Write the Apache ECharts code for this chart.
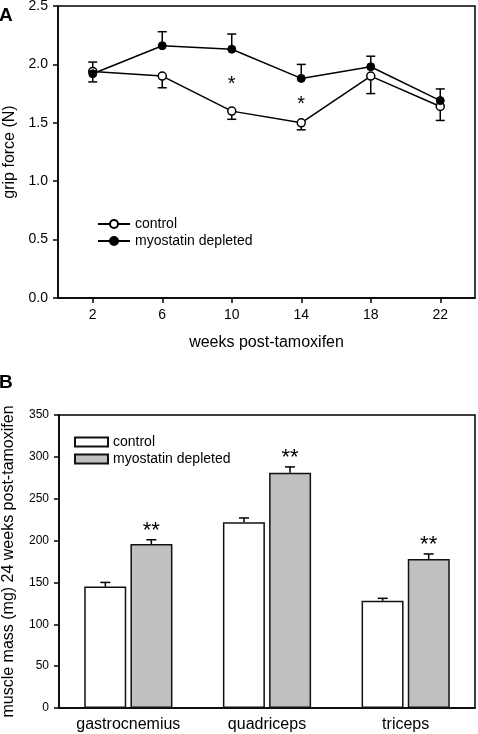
<!DOCTYPE html>
<html><head><meta charset="utf-8">
<script src="https://cdn.jsdelivr.net/npm/echarts@6/dist/echarts.min.js"></script>
<style>html,body{margin:0;padding:0;background:#fff}#c{width:478px;height:734px}</style>
</head><body><div id="c"></div>
<script>
// Panel A: grip force
const weeks = ['2', '6', '10', '14', '18', '22'];
const gripControl = [1.94, 1.90, 1.60, 1.50, 1.90, 1.64];
const gripControlErr = [0.09, 0.10, 0.07, 0.06, 0.15, 0.12];
const gripMyo = [1.92, 2.16, 2.13, 1.88, 1.98, 1.69];
const gripMyoErr = [0.10, 0.12, 0.13, 0.12, 0.09, 0.10];
const gripSig = ['', '', '*', '*', '', ''];
// Panel B: muscle mass
const muscles = ['gastrocnemius', 'quadriceps', 'triceps'];
const massControl = [145, 222, 128];
const massControlErr = [5, 5, 3];
const massMyo = [196, 281, 178];
const massMyoErr = [5, 7, 6];
const massSig = ['**', '**', '**'];

const FONT = 'Liberation Sans, Arial, sans-serif';
const BLACK = '#000';
const chart = echarts.init(document.getElementById('c'));

function errA(dir) {
  return function (params, api) {
    const x = api.value(0), v = api.value(1), e = api.value(2);
    const p0 = api.coord([x, v]);
    const p1 = api.coord([x, v + dir * e]);
    const hw = 4.5;
    return {
      type: 'group', children: [
        { type: 'line', shape: { x1: p0[0], y1: p0[1], x2: p1[0], y2: p1[1] }, style: { stroke: BLACK, lineWidth: 1.5 } },
        { type: 'line', shape: { x1: p1[0] - hw, y1: p1[1], x2: p1[0] + hw, y2: p1[1] }, style: { stroke: BLACK, lineWidth: 1.5 } }
      ]
    };
  };
}
function sigA(params, api) {
  const t = gripSig[params.dataIndex];
  if (!t) return null;
  const p = api.coord([api.value(0), api.value(1)]);
  return { type: 'text', x: p[0], y: p[1] + 4, style: { text: t, font: '20px ' + FONT, fill: BLACK, align: 'center', verticalAlign: 'middle', textAlign: 'center', textVerticalAlign: 'middle' } };
}
function errB(offset) {
  return function (params, api) {
    const x = api.value(0), v = api.value(1), e = api.value(2);
    const p0 = api.coord([x, v]);
    const p1 = api.coord([x, v + e]);
    const cx = p0[0] + offset;
    const hw = 5;
    const children = [
      { type: 'line', shape: { x1: cx, y1: p0[1], x2: cx, y2: p1[1] }, style: { stroke: BLACK, lineWidth: 1.5 } },
      { type: 'line', shape: { x1: cx - hw, y1: p1[1], x2: cx + hw, y2: p1[1] }, style: { stroke: BLACK, lineWidth: 1.5 } }
    ];
    if (offset > 0 && massSig[params.dataIndex]) {
      children.push({ type: 'text', x: cx, y: p1[1] - 9, style: { text: massSig[params.dataIndex], font: '22px ' + FONT, fill: BLACK, align: 'center', verticalAlign: 'middle', textAlign: 'center', textVerticalAlign: 'middle' } });
    }
    return { type: 'group', children: children };
  };
}

const axisLine = { show: true, lineStyle: { color: BLACK, width: 1.5 } };

chart.setOption({
  animation: false,
  textStyle: { fontFamily: FONT, color: BLACK },
  title: [
    { text: 'A', left: -1, top: 6, padding: 0, textStyle: { fontSize: 19, fontWeight: 'bold', color: BLACK, fontFamily: FONT } },
    { text: 'B', left: -1, top: 373, padding: 0, textStyle: { fontSize: 19, fontWeight: 'bold', color: BLACK, fontFamily: FONT } }
  ],
  legend: [
    {
      left: 97, top: 217, orient: 'vertical', padding: 0, itemWidth: 32, itemHeight: 10, itemGap: 3,
      textStyle: { fontSize: 14, color: BLACK, fontFamily: FONT },
      data: ['control', 'myostatin depleted']
    },
    {
      left: 74, top: 435, orient: 'vertical', padding: 0, itemWidth: 33, itemHeight: 9, itemGap: 3, icon: 'rect',
      textStyle: { fontSize: 14, color: BLACK, fontFamily: FONT },
      data: ['control ', 'myostatin depleted ']
    }
  ],
  grid: [
    { left: 58, right: 3, top: 6, height: 292, outerBoundsMode: 'none', containLabel: false, show: true, borderColor: BLACK, borderWidth: 1.5, backgroundColor: 'transparent' },
    { left: 59, right: 3, top: 415, height: 293, outerBoundsMode: 'none', containLabel: false, show: true, borderColor: BLACK, borderWidth: 1.5, backgroundColor: 'transparent' }
  ],
  xAxis: [
    {
      gridIndex: 0, type: 'category', data: weeks, boundaryGap: true,
      axisLine: axisLine, axisTick: { show: true, alignWithLabel: true, length: 5, lineStyle: { color: BLACK, width: 1.5 } },
      axisLabel: { fontSize: 14, color: BLACK, margin: 10, fontFamily: FONT },
      name: 'weeks post-tamoxifen', nameLocation: 'middle', nameGap: 37,
      nameTextStyle: { fontSize: 16, color: BLACK, fontFamily: FONT }
    },
    {
      gridIndex: 1, type: 'category', data: muscles, boundaryGap: true,
      axisLine: axisLine, axisTick: { show: false },
      axisLabel: { fontSize: 16, color: BLACK, margin: 9, fontFamily: FONT }
    }
  ],
  yAxis: [
    {
      gridIndex: 0, type: 'value', min: 0, max: 2.5, interval: 0.5,
      axisLine: axisLine, axisTick: { show: true, length: 5, lineStyle: { color: BLACK, width: 1.5 } },
      splitLine: { show: false },
      axisLabel: { fontSize: 14, color: BLACK, margin: 10, fontFamily: FONT, formatter: v => v.toFixed(1) },
      name: 'grip force (N)', nameLocation: 'middle', nameGap: 40,
      nameTextStyle: { fontSize: 16, color: BLACK, fontFamily: FONT }
    },
    {
      gridIndex: 1, type: 'value', min: 0, max: 350, interval: 50,
      axisLine: axisLine, axisTick: { show: true, length: 5, lineStyle: { color: BLACK, width: 1.5 } },
      splitLine: { show: false },
      axisLabel: { fontSize: 12, color: BLACK, margin: 10, fontFamily: FONT },
      name: 'muscle mass (mg) 24 weeks post-tamoxifen', nameLocation: 'middle', nameGap: 42,
      nameTextStyle: { fontSize: 16, color: BLACK, fontFamily: FONT }
    }
  ],
  series: [
    {
      type: 'custom', xAxisIndex: 0, yAxisIndex: 0, z: 1, renderItem: errA(-1), silent: true,
      encode: { x: 0, y: 1 },
      data: weeks.map((w, i) => [i, gripControl[i], gripControlErr[i]])
    },
    {
      type: 'custom', xAxisIndex: 0, yAxisIndex: 0, z: 1, renderItem: errA(1), silent: true,
      encode: { x: 0, y: 1 },
      data: weeks.map((w, i) => [i, gripMyo[i], gripMyoErr[i]])
    },
    {
      name: 'control', type: 'line', xAxisIndex: 0, yAxisIndex: 0, z: 3,
      data: gripControl, symbol: 'circle', symbolSize: 8,
      lineStyle: { color: BLACK, width: 1.5 },
      itemStyle: { color: '#fff', borderColor: BLACK, borderWidth: 1.5 }
    },
    {
      name: 'myostatin depleted', type: 'line', xAxisIndex: 0, yAxisIndex: 0, z: 4,
      data: gripMyo, symbol: 'circle', symbolSize: 8,
      lineStyle: { color: BLACK, width: 1.5 },
      itemStyle: { color: BLACK, borderColor: BLACK, borderWidth: 1 }
    },
    {
      type: 'custom', xAxisIndex: 0, yAxisIndex: 0, z: 5, renderItem: sigA, silent: true,
      encode: { x: 0, y: 1 },
      data: weeks.map((w, i) => [i, (gripControl[i] + gripMyo[i]) / 2])
    },
    {
      name: 'control ', type: 'bar', xAxisIndex: 1, yAxisIndex: 1,
      data: massControl, barWidth: 42, barGap: '10%',
      itemStyle: { color: '#fff', borderColor: '#111', borderWidth: 1.5 }
    },
    {
      name: 'myostatin depleted ', type: 'bar', xAxisIndex: 1, yAxisIndex: 1,
      data: massMyo, barWidth: 42, barGap: '10%',
      itemStyle: { color: '#c0c0c0', borderColor: '#111', borderWidth: 1.5 }
    },
    {
      type: 'custom', xAxisIndex: 1, yAxisIndex: 1, z: 5, renderItem: errB(-23), silent: true,
      encode: { x: 0, y: 1 },
      data: muscles.map((m, i) => [i, massControl[i], massControlErr[i]])
    },
    {
      type: 'custom', xAxisIndex: 1, yAxisIndex: 1, z: 5, renderItem: errB(23), silent: true,
      encode: { x: 0, y: 1 },
      data: muscles.map((m, i) => [i, massMyo[i], massMyoErr[i]])
    }
  ]
});
</script>
</body></html>
